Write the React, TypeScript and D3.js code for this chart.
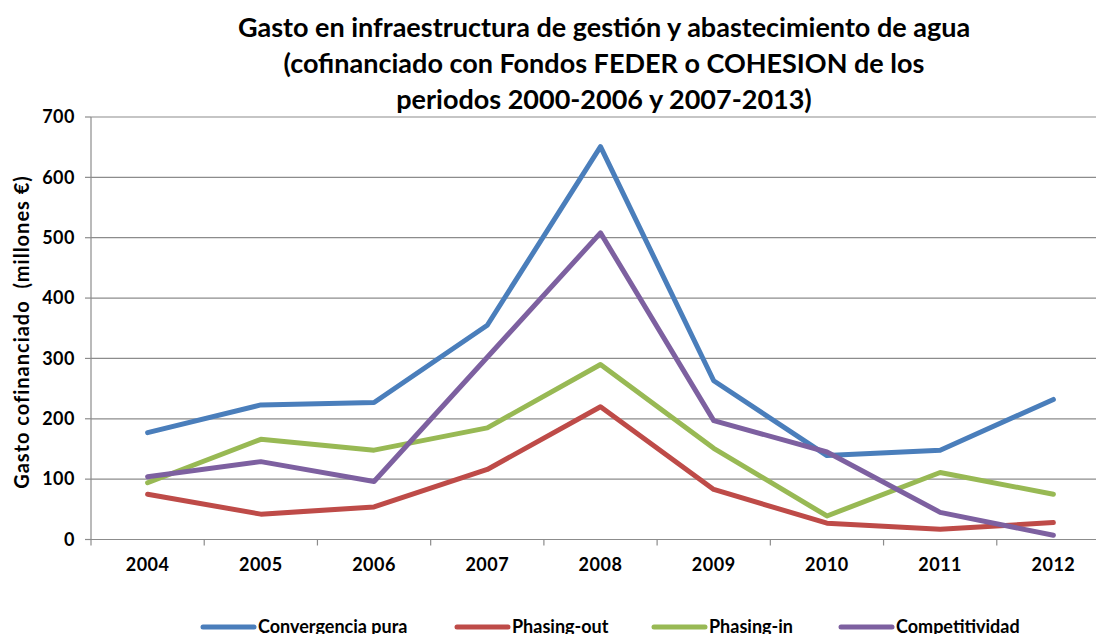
import React, { useEffect, useRef } from "react";
import * as d3 from "d3";

const years = ["2004", "2005", "2006", "2007", "2008", "2009", "2010", "2011", "2012"];
const convergencia = [177, 223, 227, 355, 651, 263, 139, 148, 232];
const phasingOut = [75, 42, 54, 116, 220, 83, 27, 17, 28];
const phasingIn = [94, 166, 148, 185, 290, 151, 39, 111, 75];
const competitividad = [104, 129, 96, 302, 508, 197, 145, 45, 7];
const yTicks = [0, 100, 200, 300, 400, 500, 600, 700];
const titleLines = [
  "Gasto en infraestructura de gestión y abastecimiento de agua",
  "(cofinanciado con Fondos FEDER o COHESION de los",
  "periodos 2000-2006 y 2007-2013)",
];
const seriesNames = ["Convergencia pura", "Phasing-out", "Phasing-in", "Competitividad"];
const seriesColors = ["#4A7EBB", "#BE4B48", "#98B954", "#7D60A0"];

export default function App() {
  const ref = useRef<SVGSVGElement | null>(null);
  useEffect(() => {
    const svg = d3.select(ref.current);
    svg.selectAll("*").remove();
    const font = "Lato, 'Open Sans', sans-serif";
    const left = 91, right = 1110, top = 117, bottom = 539.5;
    const x = d3.scaleBand<string>().domain(years).range([left, right]);
    const y = d3.scaleLinear().domain([0, 700]).range([bottom, top]);

    // title
    const tg = svg.append("g");
    titleLines.forEach((t, i) => {
      tg.append("text")
        .attr("x", 604)
        .attr("y", 37 + i * 36)
        .attr("text-anchor", "middle")
        .attr("font-family", font)
        .attr("font-weight", "bold")
        .attr("font-size", 27)
        .attr("fill", "#000")
        .text(t);
    });

    // gridlines
    svg.append("g").selectAll("line").data(yTicks.filter((d) => d > 0)).join("line")
      .attr("x1", left).attr("x2", right)
      .attr("y1", (d) => y(d)).attr("y2", (d) => y(d))
      .attr("stroke", "#8c8c8c").attr("stroke-width", 1.2);

    // y axis
    const ya = svg.append("g");
    ya.append("line").attr("x1", left).attr("x2", left).attr("y1", top).attr("y2", bottom)
      .attr("stroke", "#8c8c8c").attr("stroke-width", 1.2);
    ya.selectAll("line.t").data(yTicks).join("line").attr("class", "t")
      .attr("x1", left - 6).attr("x2", left).attr("y1", (d) => y(d)).attr("y2", (d) => y(d))
      .attr("stroke", "#8c8c8c").attr("stroke-width", 1.2);
    ya.selectAll("text").data(yTicks).join("text")
      .attr("x", 75).attr("y", (d) => y(d)).attr("dy", "0.35em")
      .attr("text-anchor", "end").attr("font-family", font).attr("font-weight", "bold")
      .attr("font-size", 18).attr("letter-spacing", 0.5).text((d) => String(d));

    // x axis
    const xa = svg.append("g");
    xa.append("line").attr("x1", left).attr("x2", right).attr("y1", bottom).attr("y2", bottom)
      .attr("stroke", "#8c8c8c").attr("stroke-width", 1.2);
    const bounds = years.map((yr) => x(yr) as number).concat([right]);
    xa.selectAll("line.t").data(bounds).join("line").attr("class", "t")
      .attr("x1", (d) => d).attr("x2", (d) => d).attr("y1", bottom).attr("y2", bottom + 6)
      .attr("stroke", "#8c8c8c").attr("stroke-width", 1.2);
    xa.selectAll("text").data(years).join("text")
      .attr("x", (d) => (x(d) as number) + x.bandwidth() / 2).attr("y", 571)
      .attr("text-anchor", "middle").attr("font-family", font).attr("font-weight", "bold")
      .attr("font-size", 18).attr("letter-spacing", 0.5).text((d) => d);

    // y title
    svg.append("text")
      .attr("transform", "translate(29,332) rotate(-90)")
      .attr("text-anchor", "middle").attr("font-family", font).attr("font-weight", "bold")
      .attr("font-size", 20).attr("letter-spacing", 1).attr("xml:space", "preserve")
      .text("Gasto cofinanciado  (millones €)");

    // lines
    const allSeries = [convergencia, phasingOut, phasingIn, competitividad];
    const line = d3.line<number>()
      .x((_, i) => (x(years[i]) as number) + x.bandwidth() / 2)
      .y((d) => y(d));
    allSeries.forEach((s, i) => {
      svg.append("path").attr("d", line(s) as string)
        .attr("fill", "none").attr("stroke", seriesColors[i]).attr("stroke-width", 5)
        .attr("stroke-linejoin", "round").attr("stroke-linecap", "round");
    });

    // legend
    const legX = [203, 457, 654, 841];
    const lg = svg.append("g");
    seriesNames.forEach((n, i) => {
      lg.append("line").attr("x1", legX[i]).attr("x2", legX[i] + 51)
        .attr("y1", 627).attr("y2", 627)
        .attr("stroke", seriesColors[i]).attr("stroke-width", 5).attr("stroke-linecap", "round");
      lg.append("text").attr("x", legX[i] + 55).attr("y", 633)
        .attr("font-family", font).attr("font-weight", "bold").attr("font-size", 18)
        .text(n);
    });
  }, []);
  return (
    <svg
      ref={ref}
      width={1096}
      height={634}
      style={{ position: "absolute", left: 0, top: 0, background: "#fff" }}
    />
  );
}
